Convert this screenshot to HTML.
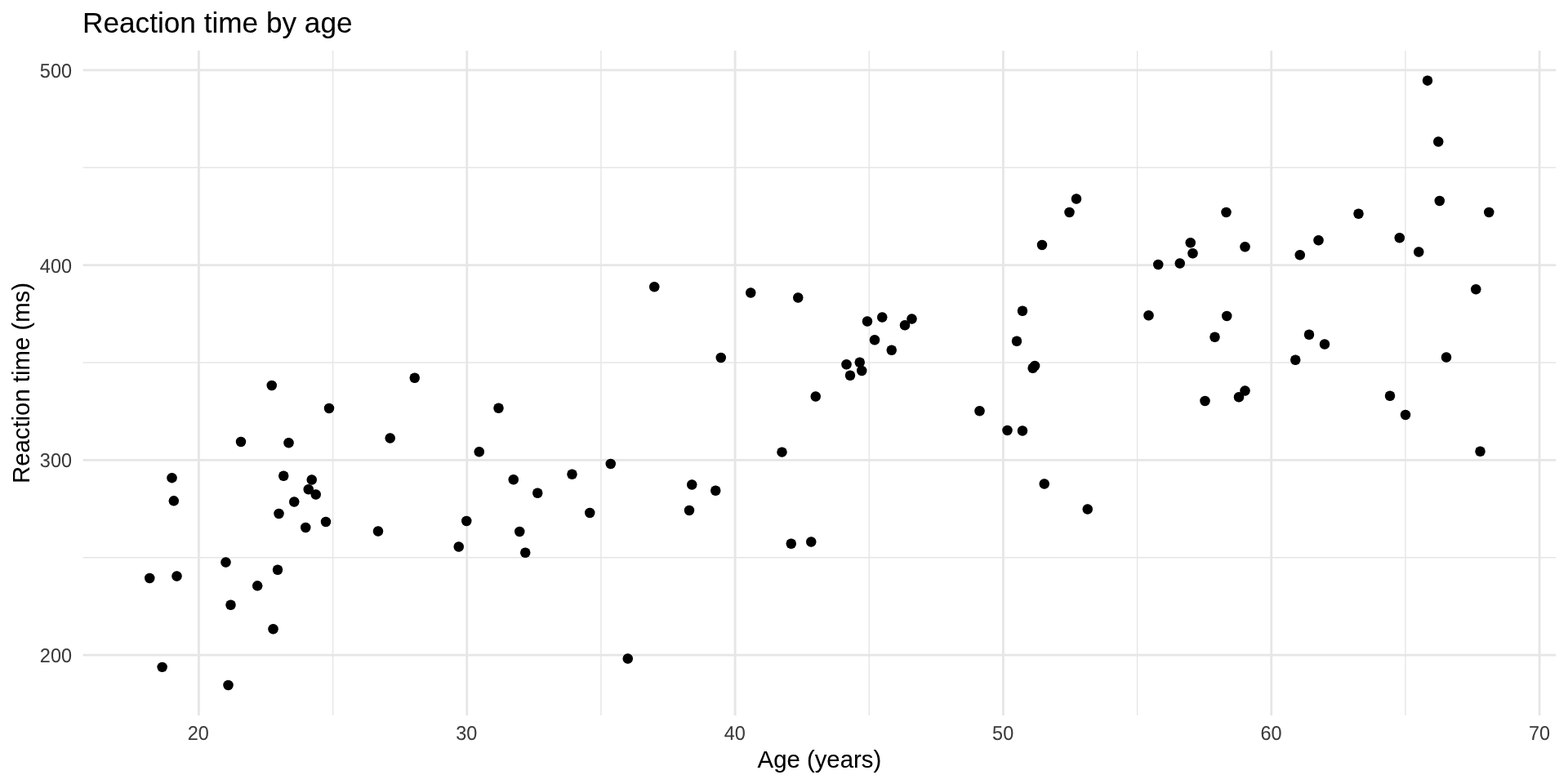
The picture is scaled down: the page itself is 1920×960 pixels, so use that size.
<!DOCTYPE html>
<html lang="en"><head><meta charset="utf-8"><title>Reaction time by age</title>
<style>
html,body{margin:0;padding:0;background:#fff;}
body{width:1920px;height:960px;overflow:hidden;}
svg{display:block;}
text{font-family:"Liberation Sans",sans-serif;}
.t{font-size:35.2px;fill:#000;}
.a{font-size:23.47px;fill:#4D4D4D;text-rendering:geometricPrecision;}
.l{font-size:29.33px;fill:#000;}
.gM{stroke:#EBEBEB;stroke-width:2.845;fill:none;}
.gm{stroke:#EBEBEB;stroke-width:1.42;fill:none;}
.p circle{fill:#000;}
</style></head><body>
<svg width="1920" height="960" viewBox="0 0 1920 960">
<defs><filter id="g" x="0" y="0" width="1920" height="960" filterUnits="userSpaceOnUse" color-interpolation-filters="sRGB"><feComponentTransfer><feFuncR type="gamma" amplitude="1" exponent="1.2222" offset="0"/><feFuncG type="gamma" amplitude="1" exponent="1.2222" offset="0"/><feFuncB type="gamma" amplitude="1" exponent="1.2222" offset="0"/></feComponentTransfer></filter></defs>
<g filter="url(#g)">
<rect x="0" y="0" width="1920" height="960" fill="#fff"/>
<g class="gm">
<line x1="101.62" x2="1905.15" y1="682.81" y2="682.81"/>
<line x1="101.62" x2="1905.15" y1="444.04" y2="444.04"/>
<line x1="101.62" x2="1905.15" y1="205.26" y2="205.26"/>
<line x1="407.59" x2="407.59" y1="62.00" y2="876.00"/>
<line x1="735.92" x2="735.92" y1="62.00" y2="876.00"/>
<line x1="1064.26" x2="1064.26" y1="62.00" y2="876.00"/>
<line x1="1392.60" x2="1392.60" y1="62.00" y2="876.00"/>
<line x1="1720.93" x2="1720.93" y1="62.00" y2="876.00"/>
</g>
<g class="gM">
<line x1="101.62" x2="1905.15" y1="802.20" y2="802.20"/>
<line x1="101.62" x2="1905.15" y1="563.42" y2="563.42"/>
<line x1="101.62" x2="1905.15" y1="324.65" y2="324.65"/>
<line x1="101.62" x2="1905.15" y1="85.87" y2="85.87"/>
<line x1="243.42" x2="243.42" y1="62.00" y2="876.00"/>
<line x1="571.76" x2="571.76" y1="62.00" y2="876.00"/>
<line x1="900.09" x2="900.09" y1="62.00" y2="876.00"/>
<line x1="1228.43" x2="1228.43" y1="62.00" y2="876.00"/>
<line x1="1556.76" x2="1556.76" y1="62.00" y2="876.00"/>
<line x1="1885.10" x2="1885.10" y1="62.00" y2="876.00"/>
</g>
<g class="p">
<circle cx="332.75" cy="472.00" r="6.2"/>
<circle cx="403.00" cy="500.00" r="6.2"/>
<circle cx="295.00" cy="541.00" r="6.2"/>
<circle cx="353.50" cy="542.25" r="6.2"/>
<circle cx="477.70" cy="536.50" r="6.2"/>
<circle cx="210.50" cy="585.20" r="6.2"/>
<circle cx="347.25" cy="582.75" r="6.2"/>
<circle cx="381.75" cy="587.50" r="6.2"/>
<circle cx="377.75" cy="599.25" r="6.2"/>
<circle cx="386.75" cy="605.50" r="6.2"/>
<circle cx="212.80" cy="613.30" r="6.2"/>
<circle cx="360.25" cy="614.50" r="6.2"/>
<circle cx="341.50" cy="629.00" r="6.2"/>
<circle cx="399.00" cy="639.00" r="6.2"/>
<circle cx="374.25" cy="646.00" r="6.2"/>
<circle cx="463.00" cy="650.50" r="6.2"/>
<circle cx="276.50" cy="688.50" r="6.2"/>
<circle cx="340.00" cy="697.75" r="6.2"/>
<circle cx="216.50" cy="705.50" r="6.2"/>
<circle cx="183.25" cy="708.00" r="6.2"/>
<circle cx="315.20" cy="717.30" r="6.2"/>
<circle cx="282.50" cy="740.75" r="6.2"/>
<circle cx="334.50" cy="770.25" r="6.2"/>
<circle cx="198.63" cy="816.87" r="6.2"/>
<circle cx="279.50" cy="839.00" r="6.2"/>
<circle cx="801.25" cy="351.25" r="6.2"/>
<circle cx="919.25" cy="358.50" r="6.2"/>
<circle cx="882.75" cy="438.00" r="6.2"/>
<circle cx="507.75" cy="462.75" r="6.2"/>
<circle cx="610.50" cy="499.75" r="6.2"/>
<circle cx="586.75" cy="553.25" r="6.2"/>
<circle cx="957.50" cy="553.60" r="6.2"/>
<circle cx="747.75" cy="568.00" r="6.2"/>
<circle cx="700.50" cy="580.75" r="6.2"/>
<circle cx="628.75" cy="587.25" r="6.2"/>
<circle cx="847.25" cy="593.50" r="6.2"/>
<circle cx="658.25" cy="603.75" r="6.2"/>
<circle cx="876.25" cy="600.75" r="6.2"/>
<circle cx="844.00" cy="625.00" r="6.2"/>
<circle cx="722.25" cy="628.00" r="6.2"/>
<circle cx="571.25" cy="638.00" r="6.2"/>
<circle cx="636.25" cy="651.00" r="6.2"/>
<circle cx="561.75" cy="669.50" r="6.2"/>
<circle cx="643.25" cy="676.75" r="6.2"/>
<circle cx="768.75" cy="806.50" r="6.2"/>
<circle cx="1318.00" cy="243.50" r="6.2"/>
<circle cx="1309.50" cy="260.00" r="6.2"/>
<circle cx="1276.00" cy="300.00" r="6.2"/>
<circle cx="1418.25" cy="324.00" r="6.2"/>
<circle cx="977.25" cy="364.50" r="6.2"/>
<circle cx="1252.00" cy="380.75" r="6.2"/>
<circle cx="1406.50" cy="386.25" r="6.2"/>
<circle cx="1080.25" cy="388.50" r="6.2"/>
<circle cx="1116.50" cy="390.50" r="6.2"/>
<circle cx="1062.00" cy="393.50" r="6.2"/>
<circle cx="1108.00" cy="398.25" r="6.2"/>
<circle cx="1245.00" cy="417.75" r="6.2"/>
<circle cx="1071.00" cy="416.25" r="6.2"/>
<circle cx="1091.75" cy="428.75" r="6.2"/>
<circle cx="1052.75" cy="443.75" r="6.2"/>
<circle cx="1036.50" cy="446.25" r="6.2"/>
<circle cx="1267.10" cy="448.00" r="6.2"/>
<circle cx="1264.65" cy="450.75" r="6.2"/>
<circle cx="1055.25" cy="454.00" r="6.2"/>
<circle cx="1041.00" cy="459.75" r="6.2"/>
<circle cx="998.75" cy="485.50" r="6.2"/>
<circle cx="1199.50" cy="503.25" r="6.2"/>
<circle cx="1233.50" cy="527.00" r="6.2"/>
<circle cx="1252.00" cy="527.50" r="6.2"/>
<circle cx="1278.75" cy="592.50" r="6.2"/>
<circle cx="1331.75" cy="623.50" r="6.2"/>
<circle cx="968.75" cy="665.75" r="6.2"/>
<circle cx="993.25" cy="663.50" r="6.2"/>
<circle cx="1748.00" cy="98.72" r="6.2"/>
<circle cx="1761.25" cy="173.50" r="6.2"/>
<circle cx="1762.75" cy="246.00" r="6.2"/>
<circle cx="1501.50" cy="260.00" r="6.2"/>
<circle cx="1823.25" cy="260.00" r="6.2"/>
<circle cx="1663.50" cy="261.75" r="6.2"/>
<circle cx="1713.75" cy="291.25" r="6.2"/>
<circle cx="1614.50" cy="294.25" r="6.2"/>
<circle cx="1457.75" cy="297.25" r="6.2"/>
<circle cx="1524.50" cy="302.25" r="6.2"/>
<circle cx="1737.25" cy="308.50" r="6.2"/>
<circle cx="1460.50" cy="310.25" r="6.2"/>
<circle cx="1591.75" cy="312.25" r="6.2"/>
<circle cx="1444.75" cy="322.50" r="6.2"/>
<circle cx="1807.25" cy="354.25" r="6.2"/>
<circle cx="1502.25" cy="387.00" r="6.2"/>
<circle cx="1603.00" cy="409.75" r="6.2"/>
<circle cx="1487.50" cy="412.75" r="6.2"/>
<circle cx="1622.00" cy="421.50" r="6.2"/>
<circle cx="1586.25" cy="440.75" r="6.2"/>
<circle cx="1771.00" cy="437.50" r="6.2"/>
<circle cx="1524.50" cy="478.50" r="6.2"/>
<circle cx="1475.50" cy="491.00" r="6.2"/>
<circle cx="1517.00" cy="486.25" r="6.2"/>
<circle cx="1702.00" cy="484.75" r="6.2"/>
<circle cx="1721.00" cy="508.00" r="6.2"/>
<circle cx="1812.50" cy="552.75" r="6.2"/>
</g>
<g class="a" text-anchor="end">
<text transform="translate(88.00,811.00) scale(1,1.04)">200</text>
<text transform="translate(88.00,572.00) scale(1,1.04)">300</text>
<text transform="translate(88.00,334.00) scale(1,1.04)">400</text>
<text transform="translate(88.00,95.00) scale(1,1.04)">500</text>
</g>
<g class="a" text-anchor="middle">
<text transform="translate(242.82,906.00) scale(1,1.04)">20</text>
<text transform="translate(571.36,906.00) scale(1,1.04)">30</text>
<text transform="translate(899.84,906.00) scale(1,1.04)">40</text>
<text transform="translate(1228.13,906.00) scale(1,1.04)">50</text>
<text transform="translate(1556.46,906.00) scale(1,1.04)">60</text>
<text transform="translate(1885.10,906.00) scale(1,1.04)">70</text>
</g>
<text class="l" text-anchor="middle" x="1003.38" y="939.70">Age (years)</text>
<text class="l" text-anchor="middle" transform="translate(35.50,469.00) rotate(-90)">Reaction time (ms)</text>
<text class="t" x="101.00" y="40.00">Reaction time by age</text>
</g>
</svg></body></html>
